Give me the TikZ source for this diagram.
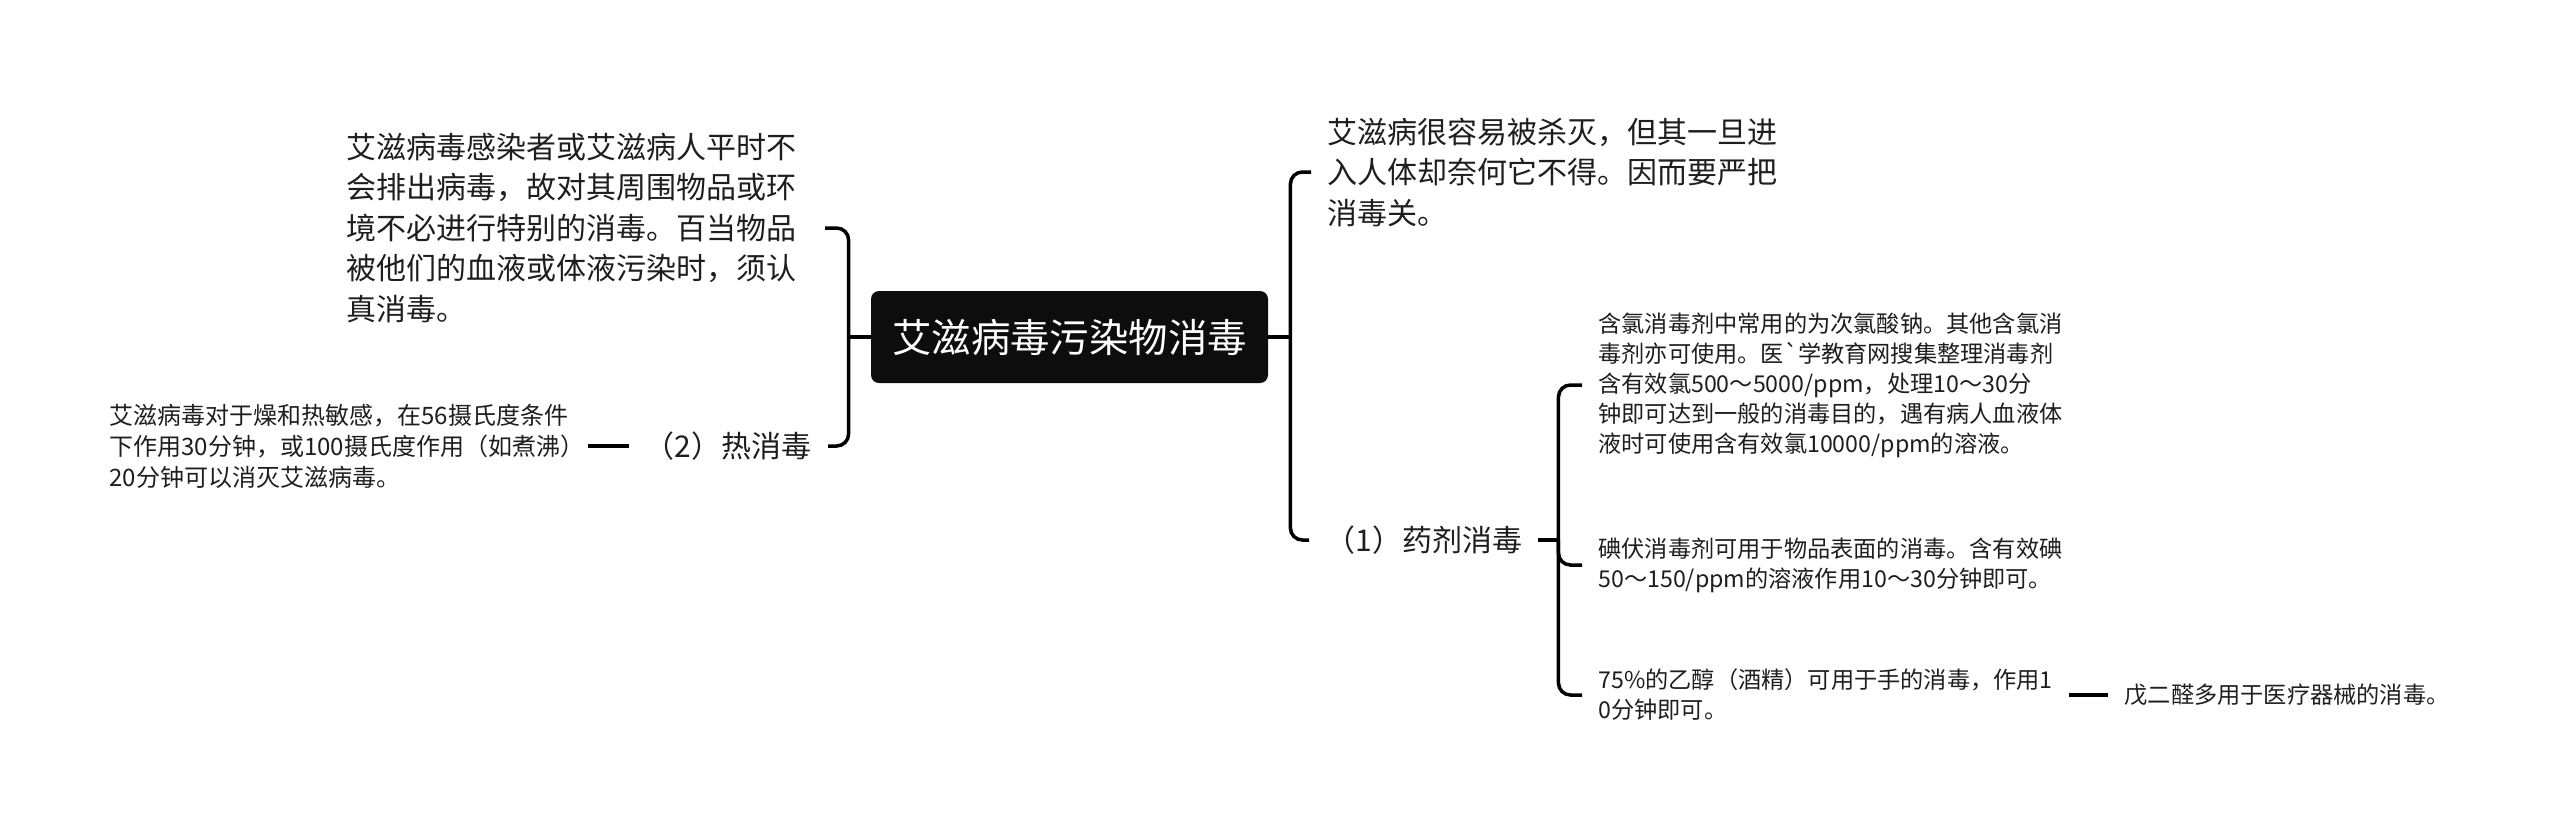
\documentclass[tikz,border=0pt]{standalone}
\usepackage{fontspec}
\newfontfamily\cjk{Noto Sans CJK SC}
\usetikzlibrary{positioning}
\definecolor{rootfill}{RGB}{13,13,13}
\definecolor{txt}{RGB}{30,30,30}

\begin{document}
\begin{tikzpicture}[x=0.5pt, y=-0.5pt,
  root/.style={fill=rootfill, rounded corners=4pt, text=white, font=\cjk\fontsize{19.7pt}{24pt}\selectfont, minimum width=198.5pt, minimum height=46pt, inner sep=0pt},
  topic/.style={text=txt, align=left, font=\cjk\fontsize{15pt}{20.25pt}\selectfont, inner xsep=8pt, inner ysep=2pt},
  note/.style={text=txt, align=left, font=\cjk\fontsize{11.6pt}{15pt}\selectfont, inner xsep=8pt, inner ysep=2pt},
  branch/.style={line width=1.75pt, rounded corners=6pt}]

  \useasboundingbox (0,0) rectangle (2560,836);

  \node[root] (root) at (1069.5,337) {艾滋病毒污染物消毒};

  \node[topic, anchor=west] (kill) at (1311,172) {艾滋病很容易被杀灭，但其一旦进\\入人体却奈何它不得。因而要严把\\消毒关。};
  \node[topic, anchor=west] (drug) at (1309,540) {（1）药剂消毒};
  \node[note, anchor=west] (chlor) at (1582,385) {含氯消毒剂中常用的为次氯酸钠。其他含氯消\\毒剂亦可使用。医`学教育网搜集整理消毒剂\\含有效氯500～5000/ppm，处理10～30分\\钟即可达到一般的消毒目的，遇有病人血液体\\液时可使用含有效氯10000/ppm的溶液。};
  \node[note, anchor=west] (iodine) at (1582,565) {碘伏消毒剂可用于物品表面的消毒。含有效碘\\50～150/ppm的溶液作用10～30分钟即可。};
  \node[note, anchor=west] (alcohol) at (1582,695) {75\%的乙醇（酒精）可用于手的消毒，作用1\\0分钟即可。};
  \node[note, right=19.5pt of alcohol] (glut) {戊二醛多用于医疗器械的消毒。};

  \node[topic, anchor=east, inner xsep=14pt] (carrier) at (825,228) {艾滋病毒感染者或艾滋病人平时不\\会排出病毒，故对其周围物品或环\\境不必进行特别的消毒。百当物品\\被他们的血液或体液污染时，须认\\真消毒。};
  \node[topic, anchor=east] (heat) at (828,446) {（2）热消毒};
  \node[note, left=20.5pt of heat, inner xsep=1.5pt, font=\cjk\fontsize{12pt}{15.5pt}\selectfont] (hotinfo) {艾滋病毒对于燥和热敏感，在56摄氏度条件\\下作用30分钟，或100摄氏度作用（如煮沸）\\20分钟可以消灭艾滋病毒。};

  \draw[branch] (root.east) -- ++(22,0) coordinate (rj);
  \draw[branch] (kill.west) -| (rj);
  \draw[branch] (drug.west) -| (rj);
  \draw[branch] (drug.east) -- ++(20,0) coordinate (dj);
  \draw[branch] (chlor.west) -| (dj);
  \draw[branch] (iodine.west) -| (dj);
  \draw[branch] (alcohol.west) -| (dj);
  \draw[branch] (alcohol.east) -- (glut.west);
  \draw[branch] (root.west) -- ++(-22,0) coordinate (lj);
  \draw[branch] (carrier.east) -| (lj);
  \draw[branch] (heat.east) -| (lj);
  \draw[branch] (heat.west) -- (hotinfo.east);
\end{tikzpicture}
\end{document}
